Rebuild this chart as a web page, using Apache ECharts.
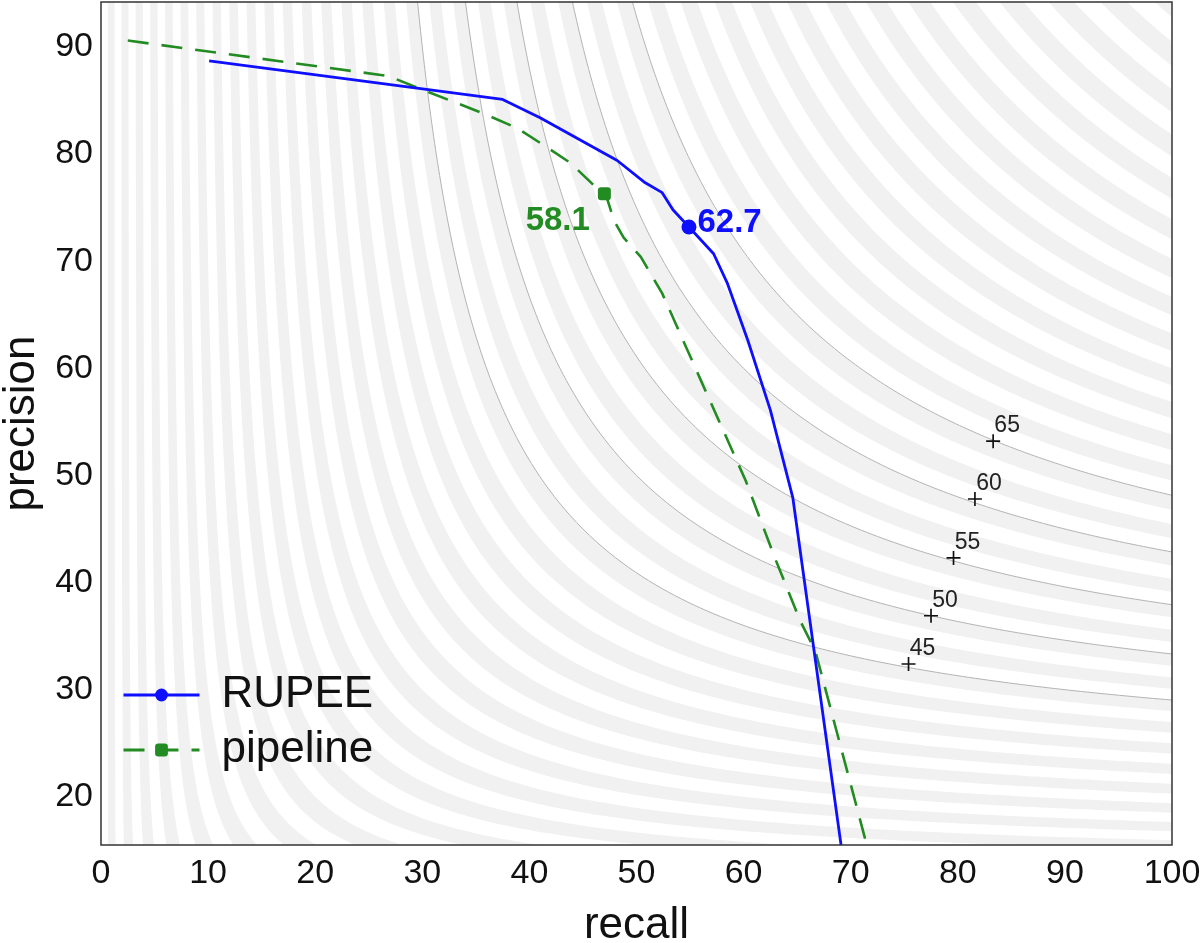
<!DOCTYPE html>
<html><head><meta charset="utf-8">
<script src="https://cdn.jsdelivr.net/npm/echarts@6/dist/echarts.min.js"></script>
<style>html,body{margin:0;padding:0;background:#fff}#main{width:1200px;height:943px}</style>
</head><body><div id="main"></div>
<script>
// ---- data ----
const rupeeRecall    = [10.1, 37.5, 41.0, 48.2, 50.7, 52.4, 53.4, 54.9, 57.2, 58.5, 60.4, 62.5, 64.6, 69.1];
const rupeePrecision = [88.7, 85.1, 83.4, 79.4, 77.4, 76.4, 74.8, 73.2, 70.7, 67.9, 62.6, 56.1, 47.9, 15.5];
const rupeeBestIndex = 7;
const rupeeBestF = '62.7';

const pipeRecall    = [2.5, 26.8, 30.3, 35.7, 38.9, 42.0, 43.8, 46.0, 47.0, 47.3, 47.9, 48.8, 50.4, 52.4, 56.0, 60.2, 63.0, 65.3, 66.7, 71.5];
const pipePrecision = [90.6, 87.3, 85.9, 83.8, 82.4, 80.4, 79.2, 77.1, 76.3, 75.7, 73.8, 72.2, 70.4, 67.0, 58.9, 49.5, 42.1, 36.4, 33.6, 15.5];
const pipeBestIndex = 8;
const pipeBestF = '58.1';

const isoLevels        = [45, 50, 55, 60, 65];
const isoMarkRecall    = [75.4, 77.5, 79.6, 81.6, 83.3];
const isoMarkPrecision = [32.4, 36.9, 42.3, 47.8, 53.2];

const xTicks = [0, 10, 20, 30, 40, 50, 60, 70, 80, 90, 100];
const yTicks = [20, 30, 40, 50, 60, 70, 80, 90];

const bandWidthF = 1.25;   // shaded iso-F band width
const bandPeriodF = 2.5;   // period of the stripes
const bandFirstF = 1.25;

const FONT = 'Liberation Sans';
const BLUE = '#0f0fff';
const GREEN = '#228b22';

// iso-F curve points (data coordinates) for F-measure level F
function isoCurve(F) {
  const PM = 100, RM = 100, N = 90, pts = [];
  if (F <= 0) return [[0, PM], [0, 0], [RM, 0]];
  for (let i = 0; i <= N; i++) { const P = PM - (PM - F) * i / N; pts.push([F * P / (2 * P - F), P]); }
  for (let i = 1; i <= N; i++) { const R = F + (RM - F) * i / N; pts.push([R, F * R / (2 * R - F)]); }
  return pts;
}

const bands = [];
for (let lo = bandFirstF; lo < 98; lo += bandPeriodF) bands.push([lo, lo + bandWidthF]);

function clipRect(params) {
  const cs = params.coordSys;
  return { type: 'rect', shape: { x: cs.x, y: cs.y, width: cs.width, height: cs.height } };
}

function bestItem(r, p, idx, best) {
  return r.map((x, i) => i === idx ? { value: [x, p[i]], symbol: best.symbol, symbolSize: best.size,
    label: best.label } : { value: [x, p[i]], symbol: 'none' });
}

const chart = echarts.init(document.getElementById('main'), null, { renderer: 'canvas' });
chart.setOption({
  animation: false,
  backgroundColor: '#ffffff',
  grid: { left: 101, right: 28, top: 2, bottom: 98, show: true, z: 10,
          outerBoundsMode: 'none', containLabel: false,
          backgroundColor: 'rgba(0,0,0,0)', borderColor: '#333', borderWidth: 1.5 },
  xAxis: {
    type: 'value', min: 0, max: 100, interval: 10,
    name: 'recall', nameLocation: 'middle', nameGap: 59,
    nameTextStyle: { fontFamily: FONT, fontSize: 44, color: '#111' },
    axisLine: { show: false }, axisTick: { show: false }, splitLine: { show: false },
    axisLabel: { fontFamily: FONT, fontSize: 34, color: '#111', margin: 12,
                 customValues: xTicks }
  },
  yAxis: {
    type: 'value', min: 15.5, max: 94.2, splitNumber: 8,
    name: 'precision', nameLocation: 'middle', nameGap: 57,
    nameTextStyle: { fontFamily: FONT, fontSize: 44, color: '#111' },
    axisLine: { show: false }, axisTick: { show: false }, splitLine: { show: false },
    axisLabel: { fontFamily: FONT, fontSize: 34, color: '#111', margin: 8,
                 customValues: yTicks, showMinLabel: true, showMaxLabel: true,
                 formatter: v => (Math.abs(v % 10) < 1e-6 ? String(v) : '') }
  },
  legend: {
    orient: 'vertical', left: 117, top: 668, itemWidth: 76, itemHeight: 16, itemGap: 11,
    data: ['RUPEE', 'pipeline'],
    lineStyle: { width: 3 },
    textStyle: { fontFamily: FONT, fontSize: 44, color: '#111', lineHeight: 44, padding: [0, 0, 0, 17] }
  },
  series: [
    {
      type: 'custom', name: 'bands', z: 1, clip: true, silent: true,
      data: bands,
      renderItem: (params, api) => {
        const lo = api.value(0), hi = api.value(1);
        const a = isoCurve(lo), b = isoCurve(hi).reverse();
        const pts = a.concat(b).map(d => api.coord(d));
        return { type: 'group', clipPath: clipRect(params),
          children: [{ type: 'polygon', shape: { points: pts }, style: { fill: '#f1f1f1' } }] };
      }
    },
    {
      type: 'custom', name: 'isolines', z: 1.5, clip: true, silent: true,
      data: isoLevels.map(f => [f]),
      renderItem: (params, api) => {
        const f = api.value(0);
        const pts = isoCurve(f).map(d => api.coord(d));
        return { type: 'group', clipPath: clipRect(params),
          children: [{ type: 'polyline', shape: { points: pts },
                       style: { stroke: '#b4b4b4', lineWidth: 1, fill: null } }] };
      }
    },
    {
      type: 'scatter', name: 'isoLabels', z: 3, silent: true,
      symbol: 'path://M4.4,0 H5.6 V4.4 H10 V5.6 H5.6 V10 H4.4 V5.6 H0 V4.4 H4.4 Z',
      symbolSize: 14,
      itemStyle: { color: '#111', opacity: 1 },
      data: isoMarkRecall.map((r, i) => [r, isoMarkPrecision[i]]),
      label: { show: true, position: 'top', distance: 0, offset: [14, 3],
               formatter: p => String(isoLevels[p.dataIndex]),
               fontFamily: FONT, fontSize: 23, color: '#222' }
    },
    {
      type: 'line', name: 'pipeline', z: 4,
      symbol: 'roundRect', symbolSize: 13,
      lineStyle: { color: GREEN, width: 2.6, type: [21, 13] },
      itemStyle: { color: GREEN },
      data: bestItem(pipeRecall, pipePrecision, pipeBestIndex, {
        symbol: 'roundRect', size: 13,
        label: { show: true, position: 'left', distance: 8, offset: [0, 27], formatter: pipeBestF,
                 fontFamily: FONT, fontSize: 33, fontWeight: 'bold', color: GREEN }
      })
    },
    {
      type: 'line', name: 'RUPEE', z: 5,
      symbol: 'circle', symbolSize: 15,
      lineStyle: { color: BLUE, width: 2.8 },
      itemStyle: { color: BLUE },
      data: bestItem(rupeeRecall, rupeePrecision, rupeeBestIndex, {
        symbol: 'circle', size: 15,
        label: { show: true, position: 'right', distance: 1, offset: [0, -4], formatter: rupeeBestF,
                 fontFamily: FONT, fontSize: 33, fontWeight: 'bold', color: BLUE }
      })
    }
  ]
});
</script></body></html>
